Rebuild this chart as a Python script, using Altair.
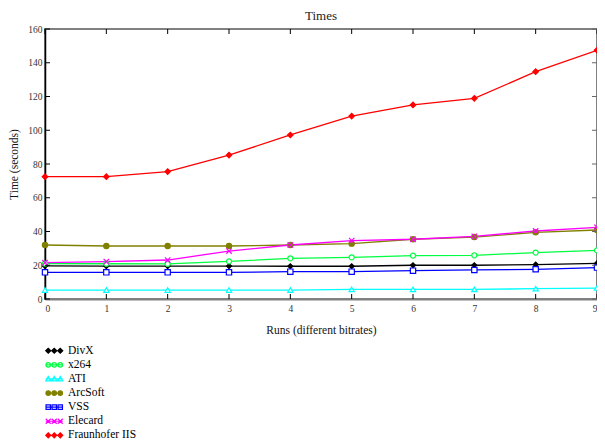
import altair as alt
import pandas as pd

chart_title = "Times"
x_title = "Runs (different bitrates)"
y_title = "Time (seconds)"

runs = list(range(10))
series = ["DivX", "x264", "ATI", "ArcSoft", "VSS", "Elecard", "Fraunhofer IIS"]
divx = [19.6, 19.5, 19.5, 19.5, 19.4, 19.4, 20.0, 20.0, 20.4, 21.1]
x264 = [21.0, 20.9, 20.8, 22.3, 24.1, 24.7, 25.7, 25.9, 27.5, 28.8]
ati = [5.3, 5.3, 5.3, 5.3, 5.3, 5.7, 5.7, 5.7, 6.1, 6.5]
arcsoft = [32.0, 31.4, 31.4, 31.4, 32.0, 32.8, 35.4, 36.7, 39.5, 40.9]
vss = [15.8, 15.8, 15.8, 15.8, 16.2, 16.2, 16.8, 17.2, 17.6, 18.6]
elecard = [21.5, 22.1, 23.1, 28.4, 32.0, 34.6, 35.4, 37.1, 40.3, 42.5]
fraunhofer = [72.5, 72.5, 75.5, 85.3, 97.2, 108.4, 115.0, 118.9, 134.7, 147.4]
values = [divx, x264, ati, arcsoft, vss, elecard, fraunhofer]

colors = ["#000000", "#00ff40", "#00ffff", "#808000", "#0000ff", "#ff00ff", "#ff0000"]
fills = ["#000000", "#ffffff", "#ffffff", "#808000", "#ffffff", "#ff00ff", "#ff0000"]
xpath = "M-1,-1L1,1M-1,1L1,-1"
shapes = ["diamond", "circle", "triangle-up", "circle", "square", xpath, "diamond"]
sizes = [25, 30, 28, 45, 28, 36, 36]

x_ticks = list(range(10))
y_ticks = list(range(0, 161, 20))

rows = []
for name, vals in zip(series, values):
    for r, v in zip(runs, vals):
        rows.append({"run": r, "time": v, "series": name})
df = pd.DataFrame(rows)
xt_df = pd.DataFrame({"xt": x_ticks})
yt_df = pd.DataFrame({"yt": y_ticks})
title_df = pd.DataFrame({"label": [chart_title]})


def triple(kind):
    parts = ["M-8.5,0H8.5"]
    for cx in (-6, 0, 6):
        if kind == "diamond":
            parts.append(f"M{cx-2.5},0L{cx},-2.5L{cx+2.5},0L{cx},2.5Z")
        elif kind == "circle":
            parts.append(f"M{cx-2.3},0A2.3,2.3 0 1,0 {cx+2.3},0A2.3,2.3 0 1,0 {cx-2.3},0Z")
        elif kind == "triangle":
            parts.append(f"M{cx},-2.5L{cx+2.5},2L{cx-2.5},2Z")
        elif kind == "square":
            parts.append(f"M{cx-2.2},-2.2H{cx+2.2}V2.2H{cx-2.2}Z")
        elif kind == "cross":
            parts.append(f"M{cx-2.5},-2.5L{cx+2.5},2.5M{cx-2.5},2.5L{cx+2.5},-2.5")
    return "".join(parts)


legend_shapes = [triple(k) for k in ["diamond", "circle", "triangle", "circle", "square", "cross", "diamond"]]

W, H = 552, 270
FONT = "Liberation Serif"

xscale = alt.Scale(domain=[0, 9], nice=False, zero=False)
yscale = alt.Scale(domain=[0, 160], nice=False)
xaxis = alt.Axis(orient="bottom", values=x_ticks, ticks=False, grid=False, domainColor="#808080",
                 domainWidth=2, labelPadding=4, titlePadding=12, format="d")
yaxis = alt.Axis(orient="left", values=y_ticks, ticks=False, grid=False, domainColor="#000000",
                 domainWidth=1.5, labelPadding=3, titlePadding=8)


def X(field):
    return alt.X(field, scale=xscale, title=x_title, axis=xaxis)


def Y(field):
    return alt.Y(field, scale=yscale, title=y_title, axis=yaxis)


base = alt.Chart(df)

lines = base.mark_line(strokeWidth=1.3).encode(
    x=X("run:Q"), y=Y("time:Q"),
    color=alt.Color("series:N", scale=alt.Scale(domain=series, range=colors), legend=None),
    order=alt.Order("run:Q"),
)

points = base.mark_point(filled=False, strokeWidth=1.2, opacity=1).encode(
    x=X("run:Q"), y=Y("time:Q"),
    stroke=alt.Stroke("series:N", scale=alt.Scale(domain=series, range=colors), legend=None),
    fill=alt.Fill("series:N", scale=alt.Scale(domain=series, range=fills), legend=None),
    shape=alt.Shape("series:N", scale=alt.Scale(domain=series, range=shapes), legend=None),
    size=alt.Size("series:N", scale=alt.Scale(domain=series, range=sizes), legend=None),
)

xt = alt.Chart(xt_df)
yt = alt.Chart(yt_df)
tick_bottom = xt.mark_rule(color="#000000", strokeWidth=1).encode(
    x=X("xt:Q"), y=alt.value(H - 5), y2=alt.value(H))
tick_top = xt.mark_rule(color="#000000", strokeWidth=1).encode(
    x=X("xt:Q"), y=alt.value(0), y2=alt.value(5))
tick_left = yt.mark_rule(color="#000000", strokeWidth=1).encode(
    y=Y("yt:Q"), x=alt.value(0), x2=alt.value(5))
tick_right = yt.mark_rule(color="#666666", strokeWidth=1).encode(
    y=Y("yt:Q"), x=alt.value(W - 5), x2=alt.value(W))

leg = alt.Legend(title=None, orient="none", legendX=0, legendY=316, symbolSize=4,
                 symbolStrokeWidth=1.2, symbolOffset=3.5, labelOffset=8, labelFont=FONT,
                 labelFontSize=11.5, labelColor="#000000", rowPadding=1.1, padding=0)

legend_layer = base.transform_filter("false").mark_point(filled=False, strokeWidth=1.2, opacity=1).encode(
    x=X("run:Q"), y=Y("time:Q"),
    stroke=alt.Stroke("series:N", scale=alt.Scale(domain=series, range=colors), legend=leg),
    fill=alt.Fill("series:N", scale=alt.Scale(domain=series, range=fills), legend=leg),
    shape=alt.Shape("series:N", scale=alt.Scale(domain=series, range=legend_shapes), legend=leg),
)

title_layer = alt.Chart(title_df).mark_text(
    font=FONT, fontSize=13, color="#222222", baseline="alphabetic", align="center"
).encode(text="label:N", x=alt.value(W / 2), y=alt.value(-9))

chart = alt.layer(
    lines, points, tick_bottom, tick_top, tick_left, tick_right, legend_layer, title_layer
).resolve_scale(
    color="independent", stroke="independent", fill="independent", shape="independent",
    size="independent",
).resolve_legend(
    color="independent", stroke="independent", fill="independent", shape="independent",
    size="independent",
).properties(
    width=W, height=H,
    autosize=alt.AutoSizeParams(type="none"),
    padding={"left": 37, "top": 21, "right": 0, "bottom": 144},
).configure_view(stroke="#808080", strokeWidth=2).configure_axis(
    labelFont=FONT, labelFontSize=9.5, labelColor="#333333", titleFont=FONT,
    titleFontSize=11.5, titleFontWeight="normal", titleColor="#111111",
)

chart.save("out.html", embed_options={"renderer": "svg", "actions": False})
